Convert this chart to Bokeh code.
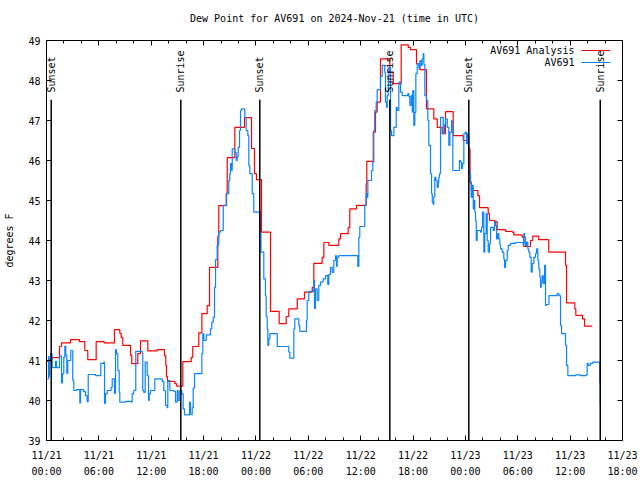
import math
from bokeh.plotting import figure
from bokeh.models import FixedTicker, LinearAxis, Range1d, Label, Arrow, CustomLabelingPolicy
from bokeh.embed import file_html
from bokeh.resources import INLINE
from bokeh.core.properties import value

# time axis: hours since 2024-11-21 00:00 UTC
analysis_hours = [0.08, 0.34, 0.65, 1.49, 1.72, 2.75, 3.78, 4.39, 4.73, 5.69, 6.61, 7.79, 8.40, 8.56, 8.74,
                  9.63, 9.77, 10.46, 10.77, 11.61, 12.68, 13.52, 13.67, 13.75, 13.86, 14.70, 14.90, 15.62,
                  16.58, 16.76, 17.45, 17.80, 18.41, 18.68, 19.63, 19.74, 20.59, 20.71, 21.58, 22.69, 23.49,
                  23.83, 24.06, 24.64, 25.67, 26.66, 27.47, 27.76, 28.73, 29.56, 30.45, 30.63, 31.59, 31.78,
                  32.35, 33.49, 33.69, 34.57, 34.75, 35.52, 36.63, 36.70, 37.44, 37.70, 37.89, 38.27, 39.34,
                  39.73, 40.64, 41.45, 41.71, 42.40, 42.78, 43.54, 44.38, 44.77, 45.34, 45.72, 46.60, 47.75,
                  48.36, 48.53, 48.67, 49.43, 49.62, 50.61, 50.76, 51.34, 51.64, 52.60, 53.36, 53.55, 54.51,
                  54.69, 55.46, 55.72, 56.41, 57.55, 59.47, 59.59, 60.54, 60.65, 61.42, 61.65, 62.53]
analysis_dewpt = [40.98, 41.03, 41.07, 41.35, 41.44, 41.52, 41.47, 41.25, 41.02, 41.47, 41.44, 41.77, 41.68,
                  41.58, 41.38, 41.13, 40.92, 41.17, 41.49, 41.24, 41.27, 41.12, 40.88, 40.60, 40.48, 40.42,
                  40.36, 40.97, 41.08, 41.35, 41.69, 42.17, 42.37, 43.33, 44.10, 44.87, 45.18, 46.07, 46.83,
                  47.07, 46.30, 45.67, 45.52, 44.21, 42.23, 41.92, 42.10, 42.29, 42.54, 42.71, 42.83, 43.43,
                  43.58, 43.95, 43.88, 44.04, 44.17, 44.32, 44.79, 44.88, 45.42, 45.98, 46.71, 47.21, 47.46,
                  48.54, 48.21, 47.92, 48.89, 48.83, 48.77, 48.42, 48.27, 47.29, 47.04, 46.83, 46.67, 47.22,
                  46.62, 46.50, 46.29, 45.46, 45.25, 45.12, 44.82, 44.67, 44.50, 44.47, 44.27, 44.23, 44.21,
                  44.14, 44.08, 43.85, 44.00, 44.11, 44.02, 43.71, 43.38, 42.44, 42.29, 42.13, 42.04, 41.86,
                  41.86]

obs_hours = [0.08, 0.23, 0.29, 0.34, 0.46, 0.65, 1.03, 1.15, 1.49, 1.72, 1.83, 1.98, 2.10, 2.21, 2.33, 2.44,
             2.78, 3.01, 3.13, 3.44, 3.82, 3.90, 4.27, 4.47, 4.66, 4.78, 5.61, 6.22, 6.57, 6.65, 6.76, 6.96,
             7.41, 7.53, 7.79, 7.91, 8.02, 8.17, 8.33, 8.40, 9.05, 9.71, 9.82, 10.00, 10.23, 10.97, 11.03,
             11.15, 11.31, 11.54, 11.69, 11.77, 11.92, 12.41, 13.06, 13.26, 13.44, 13.64, 13.83, 13.90,
             14.13, 14.59, 14.78, 14.98, 15.09, 15.27, 15.50, 15.66, 15.81, 16.39, 16.50, 16.70, 16.81,
             16.96, 17.80, 17.91, 18.03, 18.30, 18.79, 18.94, 19.10, 19.25, 19.37, 19.56, 19.74, 19.94,
             20.25, 20.63, 20.89, 21.00, 21.08, 21.20, 21.28, 21.58, 21.74, 21.85, 21.97, 22.12, 22.23,
             22.34, 22.72, 22.88, 23.07, 23.18, 23.30, 23.57, 23.75, 24.52, 24.58, 24.90, 25.09, 25.17,
             25.29, 25.36, 25.47, 25.59, 26.44, 27.76, 27.88, 28.34, 28.45, 28.91, 29.02, 29.79, 29.87,
             30.06, 30.63, 30.71, 30.82, 31.02, 31.20, 31.40, 31.70, 31.97, 32.23, 32.35, 32.54, 32.74,
             32.92, 33.12, 33.23, 33.31, 33.49, 35.67, 35.79, 35.90, 36.47, 36.63, 36.75, 36.82, 37.24,
             37.39, 37.50, 37.61, 37.78, 37.89, 38.27, 38.47, 38.76, 38.84, 38.96, 39.04, 39.15, 39.22,
             39.42, 39.53, 39.80, 40.07, 40.19, 40.37, 40.57, 40.76, 41.40, 41.52, 41.63, 41.79, 41.91,
             41.97, 42.09, 42.20, 42.32, 42.48, 42.67, 42.78, 42.94, 43.05, 43.17, 43.24, 43.35, 43.54,
             43.69, 43.81, 44.00, 44.12, 44.20, 44.31, 44.38, 44.49, 44.61, 44.77, 44.89, 44.95, 45.03,
             45.15, 45.46, 45.61, 45.72, 45.92, 46.10, 46.22, 46.41, 46.49, 46.56, 47.32, 47.44, 47.55,
             47.67, 47.82, 48.01, 48.13, 48.27, 48.39, 48.51, 48.59, 48.67, 48.78, 48.90, 48.97, 49.08,
             49.16, 49.24, 49.35, 49.73, 49.85, 49.96, 50.11, 50.22, 50.38, 50.50, 50.61, 50.76, 50.88,
             51.19, 51.34, 51.45, 51.57, 51.71, 51.83, 51.94, 52.02, 52.22, 52.40, 52.48, 52.60, 52.79,
             52.91, 53.17, 53.74, 54.62, 54.69, 54.80, 54.88, 55.00, 55.15, 55.26, 55.38, 55.54, 55.66,
             55.84, 56.03, 56.15, 56.30, 56.41, 56.53, 56.61, 56.69, 56.80, 56.92, 57.07, 57.18, 57.30,
             57.57, 58.52, 58.71, 58.90, 59.02, 59.47, 59.59, 59.74, 60.62, 61.19, 61.84, 61.95, 62.07,
             62.33, 62.60, 63.40, 63.46]
obs_dewpt = [40.54, 41.10, 40.60, 40.98, 41.17, 40.82, 40.98, 40.82, 41.11, 40.44, 40.67, 41.08, 41.36, 41.13,
             40.68, 41.00, 41.25, 40.50, 40.25, 40.27, 39.94, 40.27, 40.22, 40.12, 39.97, 40.65, 40.62, 40.93,
             40.96, 39.93, 40.17, 40.25, 40.33, 40.54, 40.18, 41.27, 41.17, 40.75, 40.21, 39.96, 39.98, 39.96,
             40.17, 40.25, 41.23, 41.20, 40.25, 40.20, 40.96, 40.62, 40.00, 40.17, 40.25, 40.54, 40.54, 40.48,
             40.25, 39.88, 39.82, 40.50, 40.25, 40.23, 39.96, 40.25, 40.00, 40.25, 40.17, 39.79, 39.64, 39.96,
             39.65, 39.82, 40.31, 40.67, 41.17, 41.67, 41.50, 41.64, 41.79, 41.96, 42.08, 42.83, 43.52, 43.88,
             44.21, 44.25, 44.88, 45.17, 45.50, 45.67, 45.92, 45.75, 46.29, 46.20, 46.00, 46.10, 46.33, 46.75,
             47.25, 47.29, 47.08, 46.75, 46.62, 45.88, 45.67, 45.17, 44.71, 44.21, 43.71, 43.04, 42.62, 42.10,
             41.79, 41.38, 41.54, 41.67, 41.35, 41.21, 41.06, 41.79, 42.04, 41.88, 41.73, 42.00, 42.50, 42.73,
             43.00, 42.30, 42.79, 42.50, 42.88, 42.96, 43.04, 43.12, 42.90, 43.15, 43.33, 43.20, 43.50, 43.62,
             43.35, 43.58, 43.62, 43.35, 44.08, 44.35, 44.88, 45.17, 45.08, 45.50, 45.75, 45.96, 46.75, 47.25,
             47.46, 47.77, 48.10, 48.38, 48.20, 47.46, 47.33, 47.62, 47.90, 48.33, 46.75, 46.62, 46.83, 47.33,
             47.25, 47.96, 47.71, 47.62, 47.67, 47.60, 47.38, 47.62, 47.21, 47.75, 46.88, 47.20, 48.17, 48.42,
             48.30, 48.50, 48.38, 48.54, 48.67, 48.40, 47.62, 47.50, 47.00, 46.38, 45.67, 45.17, 44.96, 44.90,
             45.10, 45.58, 45.50, 45.33, 45.45, 45.58, 45.67, 47.08, 46.67, 46.90, 47.04, 46.83, 46.38, 46.71,
             47.00, 46.83, 45.75, 46.00, 45.96, 45.80, 45.92, 46.67, 46.71, 46.42, 46.67, 45.75, 45.67, 45.42,
             45.08, 45.38, 44.79, 45.00, 44.71, 44.50, 44.00, 44.25, 44.21, 44.33, 44.71, 43.71, 44.17, 44.67,
             44.00, 43.71, 43.92, 44.33, 44.25, 44.46, 44.38, 44.04, 44.17, 44.04, 43.90, 43.79, 43.71, 43.54,
             43.33, 43.50, 43.75, 43.88, 43.93, 43.95, 43.90, 44.17, 44.08, 43.87, 43.96, 43.79, 43.71, 43.58,
             43.21, 43.42, 43.58, 43.67, 43.79, 43.50, 43.29, 43.08, 42.83, 42.96, 43.12, 42.92, 43.38, 42.38,
             42.40, 42.62, 42.67, 42.62, 41.88, 41.67, 41.38, 40.88, 40.62, 40.64, 40.62, 40.64, 40.93, 40.88,
             40.93, 40.96, 40.45, 39.92]

sun_event_hours = [0.54, 15.39, 24.44, 39.34, 48.39, 63.45]
sun_event_names = ["Sunset", "Sunrise", "Sunset", "Sunrise", "Sunset", "Sunrise"]

x_tick_hours = [0, 6, 12, 18, 24, 30, 36, 42, 48, 54, 60, 66]
x_tick_labels = ["11/21\n00:00", "11/21\n06:00", "11/21\n12:00", "11/21\n18:00",
                 "11/22\n00:00", "11/22\n06:00", "11/22\n12:00", "11/22\n18:00",
                 "11/23\n00:00", "11/23\n06:00", "11/23\n12:00", "11/23\n18:00"]
x_minor_hours = list(range(0, 67, 2))
y_ticks = [39, 40, 41, 42, 43, 44, 45, 46, 47, 48, 49]

FONT = "DejaVu Sans Mono"
FS = "10px"

p = figure(width=640, height=480, x_range=Range1d(0, 66), y_range=Range1d(39, 49),
           output_backend="svg", toolbar_location=None,
           min_border_left=46, min_border_right=18, min_border_top=40, min_border_bottom=40)
p.grid.visible = False
p.outline_line_color = "black"
p.outline_line_width = 1
p.background_fill_color = "white"
p.border_fill_color = "white"

p.title.text = "Dew Point for AV691 on 2024-Nov-21 (time in UTC)"
p.title.text_font = FONT
p.title.text_font_size = FS
p.title.text_font_style = "normal"
p.title.text_color = "black"
p.title.align = "center"
p.title.standoff = 12

hide_labels = CustomLabelingPolicy(code="""
for (const i of [...indices]) { indices.unset(i) }
return indices
""")

def style_axis(ax, show_labels):
    ax.axis_line_color = "black"
    ax.major_tick_in = 5
    ax.major_tick_out = 0
    ax.minor_tick_in = 3
    ax.minor_tick_out = 0
    ax.major_tick_line_color = "black"
    ax.minor_tick_line_color = "black"
    ax.major_label_text_font = FONT
    ax.major_label_text_font_size = FS
    ax.major_label_text_color = "black"
    if not show_labels:
        ax.major_label_policy = hide_labels
        ax.major_label_standoff = 0

xa = p.xaxis[0]
xa.ticker = FixedTicker(ticks=x_tick_hours, minor_ticks=x_minor_hours)
xa.major_label_overrides = {t: l for t, l in zip(x_tick_hours, x_tick_labels)}
style_axis(xa, True)
xa.major_label_standoff = 9
xa.major_label_text_line_height = 1.5

ya = p.yaxis[0]
ya.ticker = FixedTicker(ticks=y_ticks, minor_ticks=[])
style_axis(ya, True)
ya.major_label_standoff = 6
ya.axis_label = "degrees F"
ya.axis_label_text_font = FONT
ya.axis_label_text_font_size = FS
ya.axis_label_text_font_style = "normal"
ya.axis_label_text_color = "black"
ya.axis_label_standoff = 10

top = LinearAxis(ticker=FixedTicker(ticks=x_tick_hours, minor_ticks=x_minor_hours))
style_axis(top, False)
p.add_layout(top, "above")
right = LinearAxis(ticker=FixedTicker(ticks=y_ticks, minor_ticks=[]))
style_axis(right, False)
p.add_layout(right, "right")

RED = "#ff0000"
BLUE = "#0a84ff"

p.step(analysis_hours, analysis_dewpt, mode="after", line_color=RED, line_width=1.2)
p.step(obs_hours, obs_dewpt, mode="after", line_color=BLUE, line_width=1.2)

sun_line_top = 47.52
sun_label_y = 47.70
p.segment(x0=sun_event_hours, y0=[sun_line_top] * len(sun_event_hours),
          x1=sun_event_hours, y1=[39] * len(sun_event_hours), line_color="black", line_width=1.5)
p.text(x=sun_event_hours, y=[sun_label_y] * len(sun_event_hours), text=sun_event_names,
       angle=math.pi / 2, text_align="left", text_baseline="middle",
       text_font=value(FONT), text_font_size=FS, text_color="black")

# legend (gnuplot style: right-aligned text, sample line on the right)
legend_rows = [("AV691 Analysis", RED, 48.75), ("AV691", BLUE, 48.45)]
for name, col, yy in legend_rows:
    p.add_layout(Label(x=60.5, y=yy, text=name, text_align="right", text_baseline="middle",
                       text_font=FONT, text_font_size=FS, text_color="black"))
    p.add_layout(Arrow(start=None, end=None, x_start=61.3, y_start=yy, x_end=64.6, y_end=yy,
                       line_color=col, line_width=1.2))

open("out.html", "w").write(file_html(p, INLINE))
